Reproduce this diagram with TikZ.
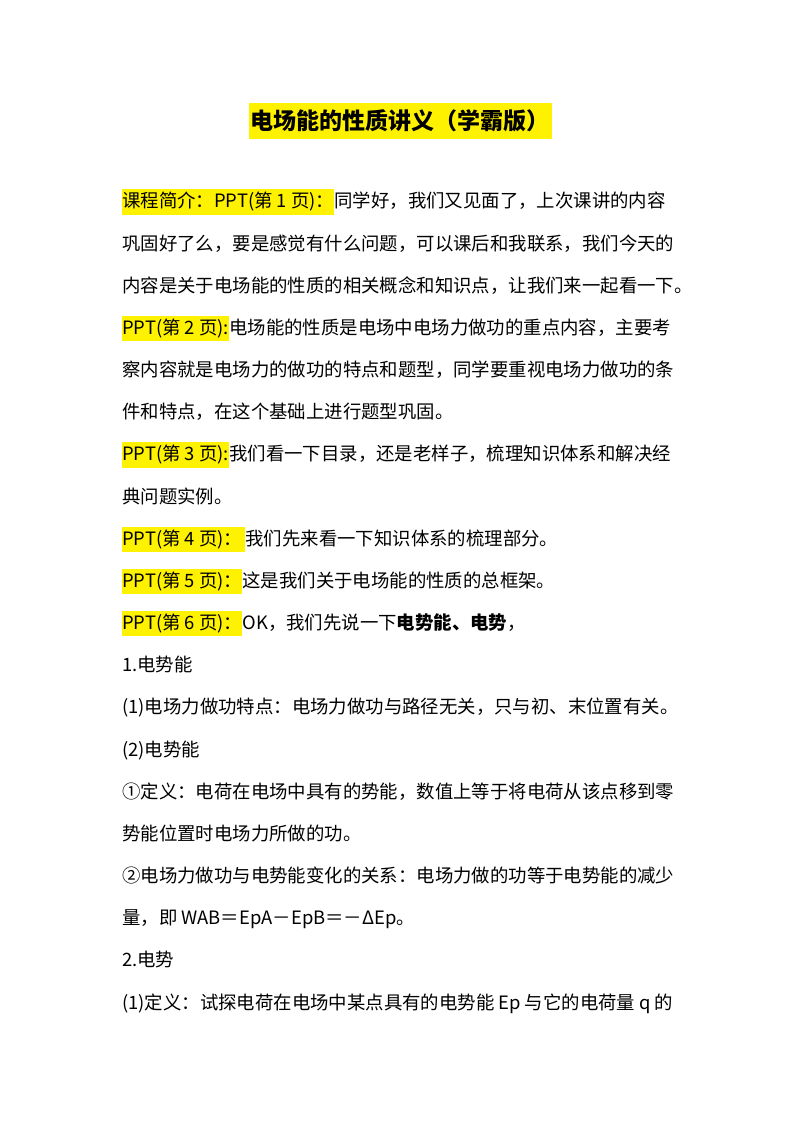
\documentclass[tikz,border=0pt]{standalone}
\usepackage{fontspec}
\setmainfont{Noto Sans CJK SC}
\begin{document}
\begin{tikzpicture}[x=1pt,y=1pt,
  hl/.style={fill=yellow,inner xsep=0pt,inner ysep=3pt,anchor=base west,font=\fontsize{18.4}{18.4}\selectfont},
  tx/.style={inner sep=0pt,anchor=base west,font=\fontsize{18.4}{18.4}\selectfont}]
\useasboundingbox (0,0) rectangle (800,1132);
\fill[white] (0,0) rectangle (800,1132);
\node[fill=yellow,inner xsep=2pt,inner ysep=7pt,font=\fontsize{23}{23}\selectfont\bfseries] (title) at (400,1011) {电场能的性质讲义（学霸版）};
\def\Y#1{\fpeval{1132-(201+(#1-1)*42.16)-7}}
\node[hl] (h1) at (122,\Y{1}) {课程简介：PPT(第 1 页)：};
\node[tx] (t1) at (h1.base east) {同学好，我们又见面了，上次课讲的内容};
\node[tx] (t2) at (122,\Y{2}) {巩固好了么，要是感觉有什么问题，可以课后和我联系，我们今天的};
\node[tx] (t3) at (122,\Y{3}) {内容是关于电场能的性质的相关概念和知识点，让我们来一起看一下。};
\node[hl] (h4) at (122,\Y{4}) {PPT(第 2 页):};
\node[tx] (t4) at (h4.base east) {电场能的性质是电场中电场力做功的重点内容，主要考};
\node[tx] (t5) at (122,\Y{5}) {察内容就是电场力的做功的特点和题型，同学要重视电场力做功的条};
\node[tx] (t6) at (122,\Y{6}) {件和特点，在这个基础上进行题型巩固。};
\node[hl] (h7) at (122,\Y{7}) {PPT(第 3 页):};
\node[tx] (t7) at (h7.base east) {我们看一下目录，还是老样子，梳理知识体系和解决经};
\node[tx] (t8) at (122,\Y{8}) {典问题实例。};
\node[hl] (h9) at (122,\Y{9}) {PPT(第 4 页)：\,};
\node[tx] (t9) at (h9.base east) {我们先来看一下知识体系的梳理部分。};
\node[hl] (h10) at (122,\Y{10}) {PPT(第 5 页)：};
\node[tx] (t10) at (h10.base east) {这是我们关于电场能的性质的总框架。};
\node[hl] (h11) at (122,\Y{11}) {PPT(第 6 页)：};
\node[tx] (t11) at (h11.base east) {OK，我们先说一下\textbf{电势能、电势}，};
\node[tx] (t12) at (122,\Y{12}) {1.电势能};
\node[tx] (t13) at (122,\Y{13}) {(1)电场力做功特点：电场力做功与路径无关，只与初、末位置有关。};
\node[tx] (t14) at (122,\Y{14}) {(2)电势能};
\node[tx] (t15) at (122,\Y{15}) {①定义：电荷在电场中具有的势能，数值上等于将电荷从该点移到零};
\node[tx] (t16) at (122,\Y{16}) {势能位置时电场力所做的功。};
\node[tx] (t17) at (122,\Y{17}) {②电场力做功与电势能变化的关系：电场力做的功等于电势能的减少};
\node[tx] (t18) at (122,\Y{18}) {量，即 WAB＝EpA－EpB＝－ΔEp。};
\node[tx] (t19) at (122,\Y{19}) {2.电势};
\node[tx] (t20) at (122,\Y{20}) {(1)定义：试探电荷在电场中某点具有的电势能 Ep 与它的电荷量 q 的};
\end{tikzpicture}
\end{document}
